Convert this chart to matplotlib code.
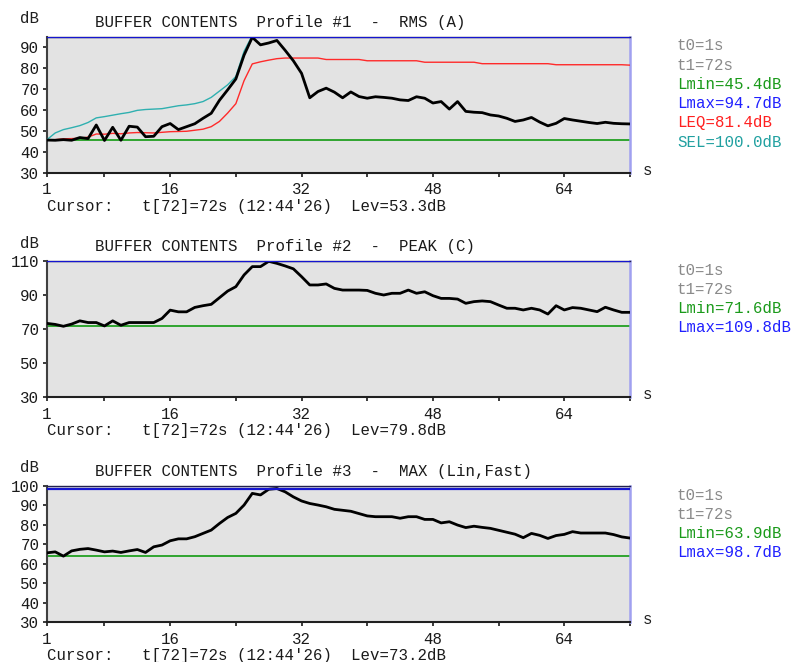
import numpy as np
import matplotlib
matplotlib.use("Agg")
import matplotlib.pyplot as plt

# time axis, one value per second of the buffer
t = np.arange(1, 73)

# profile 1: RMS (A)
rms_a = [45.6, 45.5, 45.8, 45.5, 46.8, 46.3, 52.8, 45.4, 51.7, 45.5,
         52.2, 51.8, 47.2, 47.4, 52.0, 53.5, 50.6, 52.0, 53.4, 56.0,
         58.4, 64.6, 69.6, 74.8, 86.2, 94.7, 91.1, 92.0, 93.2, 88.5,
         83.5, 77.5, 65.8, 68.8, 70.4, 68.5, 65.8, 68.6, 66.4, 65.6,
         66.3, 66.0, 65.6, 64.8, 64.5, 66.3, 65.6, 63.3, 64.0, 60.4,
         64.0, 59.3, 58.9, 58.7, 57.6, 57.1, 56.0, 54.5, 55.2, 56.4,
         54.2, 52.4, 53.6, 55.9, 55.2, 54.6, 54.0, 53.5, 54.1, 53.6,
         53.4, 53.3]
leq_a = [45.5, 45.8, 46.2, 46.3, 46.5, 47.0, 48.5, 48.4, 48.8, 48.6,
         49.0, 49.2, 49.1, 49.0, 49.3, 49.6, 49.7, 49.8, 50.3, 50.8,
         52.0, 54.5, 58.5, 63.0, 74.0, 82.0, 83.0, 83.8, 84.5, 84.8,
         84.8, 84.8, 84.8, 84.8, 84.1, 84.1, 84.1, 84.1, 84.1, 83.5,
         83.5, 83.5, 83.5, 83.5, 83.5, 83.5, 82.8, 82.8, 82.8, 82.8,
         82.8, 82.8, 82.8, 82.1, 82.1, 82.1, 82.1, 82.1, 82.1, 82.1,
         82.1, 82.1, 81.6, 81.6, 81.6, 81.6, 81.6, 81.6, 81.6, 81.6,
         81.6, 81.4]
sel_a = [45.8, 49.0, 50.6, 51.5, 52.5, 54.0, 56.2, 56.8, 57.5, 58.2,
         58.8, 59.8, 60.2, 60.4, 60.6, 61.3, 62.0, 62.4, 63.0, 64.0,
         66.0, 69.0, 72.0, 76.0, 88.0, 95.6, 96.3, 97.0, 97.6, 98.0,
         98.3, 98.5, 98.6, 98.7, 98.8, 98.9, 99.0, 99.1, 99.1, 99.2,
         99.2, 99.3, 99.3, 99.4, 99.4, 99.4, 99.5, 99.5, 99.5, 99.6,
         99.6, 99.6, 99.7, 99.7, 99.7, 99.7, 99.8, 99.8, 99.8, 99.8,
         99.8, 99.9, 99.9, 99.9, 99.9, 99.9, 99.9, 100.0, 100.0, 100.0,
         100.0, 100.0]

# profile 2: PEAK (C)
peak_c = [73.3, 72.7, 71.6, 72.9, 74.8, 73.8, 73.8, 71.8, 74.8, 72.2,
          73.8, 73.8, 73.8, 73.8, 76.2, 81.1, 80.1, 80.1, 82.7, 83.7,
          84.5, 88.4, 92.3, 94.9, 101.8, 106.7, 106.7, 109.8, 108.6, 107.1,
          105.4, 100.8, 95.9, 95.9, 96.5, 93.9, 92.9, 92.9, 92.9, 92.7,
          91.0, 90.0, 91.0, 91.0, 92.9, 91.0, 91.9, 89.6, 88.0, 88.0,
          87.6, 85.1, 86.1, 86.5, 86.1, 84.1, 82.2, 82.2, 81.2, 82.2,
          81.2, 78.8, 83.7, 81.2, 82.6, 82.2, 81.2, 80.2, 82.8, 81.2,
          79.8, 79.8]

# profile 3: MAX (Lin, Fast)
max_lin = [65.6, 66.1, 63.9, 66.6, 67.4, 67.8, 67.0, 66.1, 66.5, 65.8,
           66.6, 67.3, 65.8, 68.7, 69.6, 71.8, 72.8, 72.8, 73.9, 75.6,
           77.3, 80.7, 83.8, 85.9, 90.2, 96.2, 95.4, 98.3, 98.7, 97.0,
           94.4, 92.3, 91.0, 90.2, 89.3, 88.0, 87.5, 87.0, 85.8, 84.6,
           84.2, 84.2, 84.2, 83.4, 84.2, 84.2, 82.8, 82.8, 81.0, 81.6,
           79.9, 78.6, 79.3, 78.7, 78.2, 77.2, 76.2, 75.2, 73.4, 75.6,
           74.6, 73.0, 74.5, 75.1, 76.5, 75.8, 75.8, 75.8, 75.8, 75.0,
           73.8, 73.2]

titles = ["BUFFER CONTENTS  Profile #1  -  RMS (A)",
          "BUFFER CONTENTS  Profile #2  -  PEAK (C)",
          "BUFFER CONTENTS  Profile #3  -  MAX (Lin,Fast)"]
lmin = [45.4, 71.6, 63.9]
lmax = [94.7, 109.8, 98.7]
cursor_lev = [53.3, 79.8, 73.2]
y_top = [95, 110, 100]
y_ticks = [np.arange(30, 91, 10), np.arange(30, 111, 20), np.arange(30, 101, 10)]

W, H = 794, 662
FONT = "Liberation Mono"
FS = 11.3

def fx(px):
    return px / W

def fy(py):
    return 1 - py / H

fig = plt.figure(figsize=(W / 100, H / 100), dpi=100)
fig.patch.set_facecolor("white")

tops = [36.7, 261, 486]
left, right = 47, 630
ph = 136

for i in range(3):
    top = tops[i]
    ax = fig.add_axes([fx(left), fy(top + ph), fx(right - left), ph / H])
    ax.set_facecolor("#e3e3e3")

    ax.axhline(lmin[i], color="#22a022", lw=1.3, zorder=2)
    if i == 0:
        ax.plot(t, leq_a, color="#ff2a2a", lw=1.0, zorder=3)
        ax.plot(t, sel_a, color="#2fb0b0", lw=1.0, zorder=3)
        ax.plot(t, rms_a, color="black", lw=2.0, zorder=4)
    elif i == 1:
        ax.plot(t, peak_c, color="black", lw=2.0, zorder=4)
    else:
        ax.plot(t, max_lin, color="black", lw=2.0, zorder=4)
    ax.axhline(lmax[i], color="#1515d0", lw=1.6, zorder=5)

    ax.set_xlim(1, 72)
    ax.set_ylim(30, y_top[i])
    ax.set_xticks([1, 8, 16, 24, 32, 40, 48, 56, 64, 72])
    ax.set_xticklabels(["1", "", "16", "", "32", "", "48", "", "64", ""])
    ax.set_yticks(y_ticks[i])
    ax.tick_params(direction="out", length=3, width=1.2, colors="#1a1a1a",
                   labelsize=FS)
    ax.tick_params(axis="x", pad=4)
    ax.tick_params(axis="y", pad=2.5)
    for lab in ax.get_xticklabels() + ax.get_yticklabels():
        lab.set_fontfamily(FONT)

    ax.spines["left"].set_color("#404040")
    ax.spines["left"].set_linewidth(1.5)
    ax.spines["bottom"].set_color("#202020")
    ax.spines["bottom"].set_linewidth(1.5)
    ax.spines["top"].set_color("#202050")
    ax.spines["top"].set_linewidth(1.0)
    ax.spines["right"].set_color("#a0a0f0")
    ax.spines["right"].set_linewidth(1.8)

    # labels around the plot
    fig.text(fx(20), fy(top - 18), "dB", family=FONT, fontsize=FS,
             color="#202020", va="center", ha="left")
    fig.text(fx(95), fy(top - 14.5), titles[i], family=FONT, fontsize=FS,
             color="#1a1a1a", va="center", ha="left")
    fig.text(fx(647), fy(top + 133.5), "s", family=FONT, fontsize=FS,
             color="#202020", va="center", ha="center")
    fig.text(fx(47), fy(top + 169.5),
             "Cursor:   t[72]=72s (12:44'26)  Lev=%.1fdB" % cursor_lev[i],
             family=FONT, fontsize=FS, color="#1a1a1a", va="center", ha="left")

    info = [("t0=1s", "#8a8a8a"), ("t1=72s", "#8a8a8a"),
            ("Lmin=%.1fdB" % lmin[i], "#1a9a1a"),
            ("Lmax=%.1fdB" % lmax[i], "#2020ff")]
    if i == 0:
        info += [("LEQ=81.4dB", "#ff2020"), ("SEL=100.0dB", "#20a0a0")]
    for k, (txt, col) in enumerate(info):
        fig.text(fx(677), fy(top + 9 + 19.3 * k), txt, family=FONT,
                 fontsize=FS, color=col, va="center", ha="left")

fig.savefig("out.png", dpi=100, facecolor="white")
